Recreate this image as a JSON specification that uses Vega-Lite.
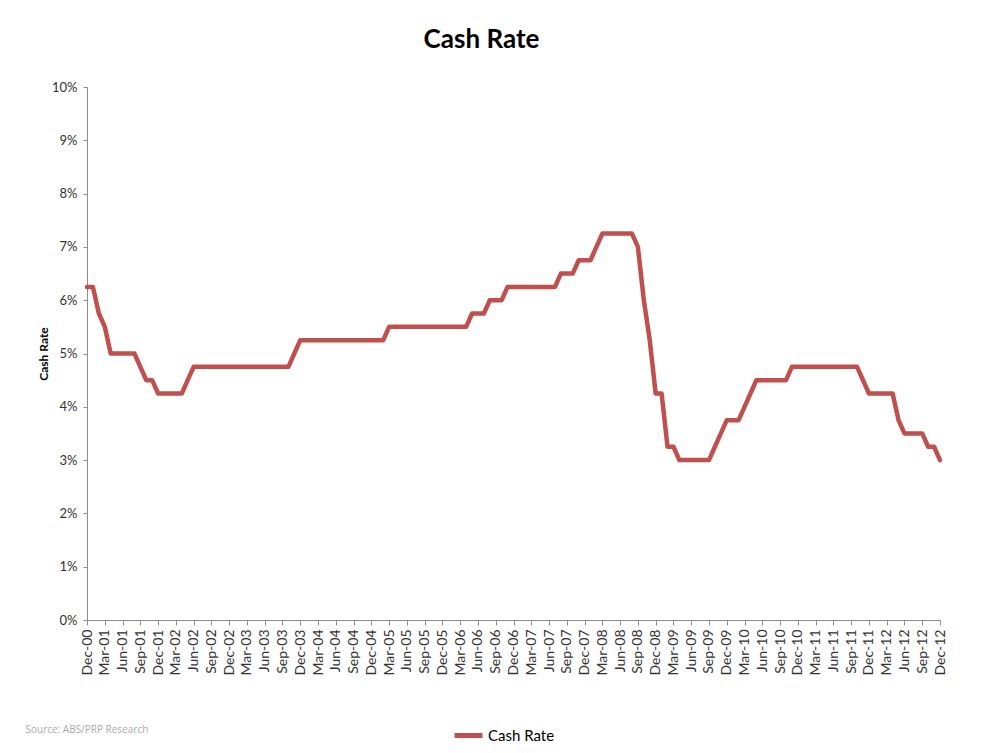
{
  "$schema": "https://vega.github.io/schema/vega-lite/v6.json",
  "autosize": "none",
  "width": 853,
  "height": 533,
  "padding": {"left": 87, "top": 87, "right": 52, "bottom": 133},
  "background": "#ffffff",
  "title": {"text": "Cash Rate", "font": "Lato", "fontSize": 26, "fontWeight": "bold", "color": "#000000", "anchor": "middle", "frame": "group", "dx": -32, "offset": 28},
  "config": {
    "view": {"stroke": null},
    "axis": {"grid": false, "domainColor": "#8c8c8c", "tickColor": "#8c8c8c", "labelFont": "Lato", "labelColor": "#333333", "titleFont": "Lato"}
  },
  "data": {"values": [
    {"m":"Dec-00","r":6.25},
    {"m":"Jan-01","r":6.25},{"m":"Feb-01","r":5.75},{"m":"Mar-01","r":5.5},{"m":"Apr-01","r":5.0},{"m":"May-01","r":5.0},{"m":"Jun-01","r":5.0},{"m":"Jul-01","r":5.0},{"m":"Aug-01","r":5.0},{"m":"Sep-01","r":4.75},{"m":"Oct-01","r":4.5},{"m":"Nov-01","r":4.5},{"m":"Dec-01","r":4.25},
    {"m":"Jan-02","r":4.25},{"m":"Feb-02","r":4.25},{"m":"Mar-02","r":4.25},{"m":"Apr-02","r":4.25},{"m":"May-02","r":4.5},{"m":"Jun-02","r":4.75},{"m":"Jul-02","r":4.75},{"m":"Aug-02","r":4.75},{"m":"Sep-02","r":4.75},{"m":"Oct-02","r":4.75},{"m":"Nov-02","r":4.75},{"m":"Dec-02","r":4.75},
    {"m":"Jan-03","r":4.75},{"m":"Feb-03","r":4.75},{"m":"Mar-03","r":4.75},{"m":"Apr-03","r":4.75},{"m":"May-03","r":4.75},{"m":"Jun-03","r":4.75},{"m":"Jul-03","r":4.75},{"m":"Aug-03","r":4.75},{"m":"Sep-03","r":4.75},{"m":"Oct-03","r":4.75},{"m":"Nov-03","r":5.0},{"m":"Dec-03","r":5.25},
    {"m":"Jan-04","r":5.25},{"m":"Feb-04","r":5.25},{"m":"Mar-04","r":5.25},{"m":"Apr-04","r":5.25},{"m":"May-04","r":5.25},{"m":"Jun-04","r":5.25},{"m":"Jul-04","r":5.25},{"m":"Aug-04","r":5.25},{"m":"Sep-04","r":5.25},{"m":"Oct-04","r":5.25},{"m":"Nov-04","r":5.25},{"m":"Dec-04","r":5.25},
    {"m":"Jan-05","r":5.25},{"m":"Feb-05","r":5.25},{"m":"Mar-05","r":5.5},{"m":"Apr-05","r":5.5},{"m":"May-05","r":5.5},{"m":"Jun-05","r":5.5},{"m":"Jul-05","r":5.5},{"m":"Aug-05","r":5.5},{"m":"Sep-05","r":5.5},{"m":"Oct-05","r":5.5},{"m":"Nov-05","r":5.5},{"m":"Dec-05","r":5.5},
    {"m":"Jan-06","r":5.5},{"m":"Feb-06","r":5.5},{"m":"Mar-06","r":5.5},{"m":"Apr-06","r":5.5},{"m":"May-06","r":5.75},{"m":"Jun-06","r":5.75},{"m":"Jul-06","r":5.75},{"m":"Aug-06","r":6.0},{"m":"Sep-06","r":6.0},{"m":"Oct-06","r":6.0},{"m":"Nov-06","r":6.25},{"m":"Dec-06","r":6.25},
    {"m":"Jan-07","r":6.25},{"m":"Feb-07","r":6.25},{"m":"Mar-07","r":6.25},{"m":"Apr-07","r":6.25},{"m":"May-07","r":6.25},{"m":"Jun-07","r":6.25},{"m":"Jul-07","r":6.25},{"m":"Aug-07","r":6.5},{"m":"Sep-07","r":6.5},{"m":"Oct-07","r":6.5},{"m":"Nov-07","r":6.75},{"m":"Dec-07","r":6.75},
    {"m":"Jan-08","r":6.75},{"m":"Feb-08","r":7.0},{"m":"Mar-08","r":7.25},{"m":"Apr-08","r":7.25},{"m":"May-08","r":7.25},{"m":"Jun-08","r":7.25},{"m":"Jul-08","r":7.25},{"m":"Aug-08","r":7.25},{"m":"Sep-08","r":7.0},{"m":"Oct-08","r":6.0},{"m":"Nov-08","r":5.25},{"m":"Dec-08","r":4.25},
    {"m":"Jan-09","r":4.25},{"m":"Feb-09","r":3.25},{"m":"Mar-09","r":3.25},{"m":"Apr-09","r":3.0},{"m":"May-09","r":3.0},{"m":"Jun-09","r":3.0},{"m":"Jul-09","r":3.0},{"m":"Aug-09","r":3.0},{"m":"Sep-09","r":3.0},{"m":"Oct-09","r":3.25},{"m":"Nov-09","r":3.5},{"m":"Dec-09","r":3.75},
    {"m":"Jan-10","r":3.75},{"m":"Feb-10","r":3.75},{"m":"Mar-10","r":4.0},{"m":"Apr-10","r":4.25},{"m":"May-10","r":4.5},{"m":"Jun-10","r":4.5},{"m":"Jul-10","r":4.5},{"m":"Aug-10","r":4.5},{"m":"Sep-10","r":4.5},{"m":"Oct-10","r":4.5},{"m":"Nov-10","r":4.75},{"m":"Dec-10","r":4.75},
    {"m":"Jan-11","r":4.75},{"m":"Feb-11","r":4.75},{"m":"Mar-11","r":4.75},{"m":"Apr-11","r":4.75},{"m":"May-11","r":4.75},{"m":"Jun-11","r":4.75},{"m":"Jul-11","r":4.75},{"m":"Aug-11","r":4.75},{"m":"Sep-11","r":4.75},{"m":"Oct-11","r":4.75},{"m":"Nov-11","r":4.5},{"m":"Dec-11","r":4.25},
    {"m":"Jan-12","r":4.25},{"m":"Feb-12","r":4.25},{"m":"Mar-12","r":4.25},{"m":"Apr-12","r":4.25},{"m":"May-12","r":3.75},{"m":"Jun-12","r":3.5},{"m":"Jul-12","r":3.5},{"m":"Aug-12","r":3.5},{"m":"Sep-12","r":3.5},{"m":"Oct-12","r":3.25},{"m":"Nov-12","r":3.25},{"m":"Dec-12","r":3.0}
  ]},
  "mark": {"type": "line", "strokeWidth": 4.5, "strokeJoin": "round", "strokeCap": "round"},
  "encoding": {
    "x": {
      "field": "m", "type": "ordinal", "sort": null,
      "scale": {"type": "point", "padding": 0},
      "axis": {
        "values": ["Dec-00","Mar-01","Jun-01","Sep-01","Dec-01","Mar-02","Jun-02","Sep-02","Dec-02","Mar-03","Jun-03","Sep-03","Dec-03","Mar-04","Jun-04","Sep-04","Dec-04","Mar-05","Jun-05","Sep-05","Dec-05","Mar-06","Jun-06","Sep-06","Dec-06","Mar-07","Jun-07","Sep-07","Dec-07","Mar-08","Jun-08","Sep-08","Dec-08","Mar-09","Jun-09","Sep-09","Dec-09","Mar-10","Jun-10","Sep-10","Dec-10","Mar-11","Jun-11","Sep-11","Dec-11","Mar-12","Jun-12","Sep-12","Dec-12"],
        "labelAngle": -90, "labelAlign": "right", "labelBaseline": "middle", "labelFontSize": 14, "labelPadding": 4,
        "tickSize": 5, "labelOverlap": false,
        "title": "Source: ABS/PRP Research", "titleFont": "Open Sans", "titleFontSize": 10, "titleFontWeight": "normal", "titleColor": "#aaaaaa",
        "titleAnchor": "start", "titleAlign": "left", "titleX": -62, "titleY": 109, "titleBaseline": "middle"
      }
    },
    "y": {
      "field": "r", "type": "quantitative",
      "scale": {"domain": [0, 10], "nice": false},
      "axis": {
        "values": [0,1,2,3,4,5,6,7,8,9,10], "labelExpr": "datum.value + '%'",
        "labelFontSize": 13, "tickSize": 4, "labelPadding": 6,
        "title": "Cash Rate", "titleFontSize": 12, "titleFontWeight": "bold", "titleColor": "#000000", "titlePadding": 1
      }
    },
    "color": {
      "datum": "Cash Rate", "type": "nominal",
      "scale": {"range": ["#c0504d"]},
      "legend": {
        "title": null, "orient": "none", "legendX": 365, "legendY": 632, "direction": "horizontal",
        "symbolType": "stroke", "symbolStrokeWidth": 5, "symbolSize": 784,
        "labelFont": "Lato", "labelFontSize": 15, "labelColor": "#000000", "labelOffset": 3
      }
    }
  }
}
